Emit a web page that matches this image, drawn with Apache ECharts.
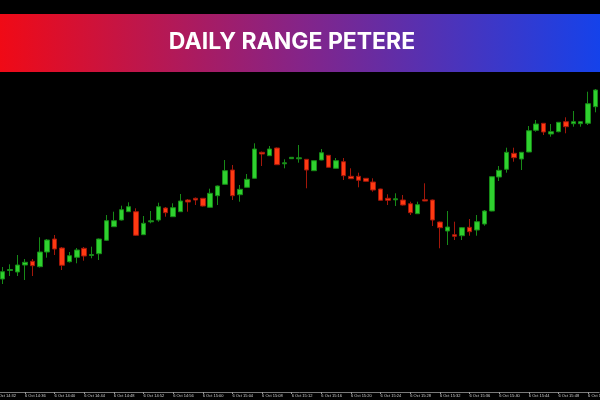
<!DOCTYPE html>
<html>
<head>
<meta charset="utf-8">
<script src="https://cdn.jsdelivr.net/npm/echarts@6/dist/echarts.min.js"></script>
<style>
html,body{margin:0;padding:0;background:#000;}
#chart{width:600px;height:400px;}
</style>
</head>
<body>
<div id="chart"></div>
<script>
// Title
var titleText = 'DAILY RANGE PETERE';
var datePrefix = '6 Oct';
// Minute categories (first one has no candle, only its axis label)
var times = ['14:32','14:33','14:34','14:35','14:36','14:37','14:38','14:39','14:40','14:41','14:42','14:43','14:44','14:45','14:46','14:47','14:48','14:49','14:50','14:51','14:52','14:53','14:54','14:55','14:56','14:57','14:58','14:59','15:00','15:01','15:02','15:03','15:04','15:05','15:06','15:07','15:08','15:09','15:10','15:11','15:12','15:13','15:14','15:15','15:16','15:17','15:18','15:19','15:20','15:21','15:22','15:23','15:24','15:25','15:26','15:27','15:28','15:29','15:30','15:31','15:32','15:33','15:34','15:35','15:36','15:37','15:38','15:39','15:40','15:41','15:42','15:43','15:44','15:45','15:46','15:47','15:48','15:49','15:50','15:51','15:52','15:53'];
// OHLC values for candles 14:33 .. 15:53
var opens  = [113,121.5,120,127,130.7,125.3,140,153,144,130.3,134.7,143.7,136.5,138.3,151.7,165.3,172,180.3,180.3,157.3,170.2,172,184,175.3,180.3,192,193.7,193.7,184.7,196.3,207.7,222,197.3,204.7,213.7,239.7,236.3,244,228.2,233.3,233.2,232.7,221.3,232,236.7,223.7,230.3,215.7,215.7,213.7,210,203,193.7,192.2,192,188.3,178.3,192.3,192,170,161,157.3,156.3,164.7,162,168,181,215,222.7,238.7,233,240,261.7,268.7,258,260.3,270.3,268.3,268.3,268.7,285.3];
var closes = [120.3,122.5,127,129.7,126.3,140,152,143,126.7,136.3,142,136,137.5,153,171.3,171.3,182.3,185.3,156.7,168.7,171.2,185.3,179.3,184.3,191,190,192,186,198.7,206,221.3,196.3,202.7,212.7,243,238,243,227.3,229.2,234.7,234.2,222,231.3,239.3,224.7,231.3,216.3,213.3,211.7,210.7,202,191.7,191.7,193.2,187,179.3,187.3,191,172,164.3,165,155.7,164.3,160.3,170.3,181,215.3,221.7,239.7,234.3,239.7,261.3,268,260,260.3,269.7,265.3,270.3,270.3,288.3,302];
var lows   = [108,116,116,112,116,124.5,134.3,137,122,129.5,128.7,131.3,133.7,132,151,165,171.5,180,156,157,168.7,170.3,175.3,175,180,180.3,187,185.5,184.3,187,207.5,192,190.3,204.5,213.5,226,236,227,223.7,233,229.3,203.7,221,231.7,224.5,223.5,212,213,204.7,210.5,200.3,191.5,187,186,186.5,177,178,190.8,166,143.7,147,152,152,156.3,156.3,166.3,180.7,211,219.3,230.3,222,239.7,260.3,257,255.3,259.7,258.7,265.3,265.3,267,279.7];
var highs  = [125,127.7,137,133,133,154.7,153,157,145,140,144,145,145.3,153.5,177,180.3,186.3,189.7,183.7,176,181,189.3,185,188.7,198,193,194.5,194,203.3,206.5,232,227,207,218,248.7,240.5,246,244.5,232.7,235,247,233,231.5,243,237,234,234,223.7,219.3,214,213.7,203.3,197.7,198.7,197,190.3,190.3,208.7,192.5,170.5,181,170.3,165,173,177,182,215.7,226,244.3,244.3,240,266,272,269,268,270,274.7,281,270.5,300.3,303];

var upBody = '#2fd12f', upEdge = '#178a17';
var downBody = '#ff3a12', downEdge = '#a3170a';

var candleData = ['-'].concat(opens.map(function (o, i) {
  return [o, closes[i], lows[i], highs[i]];
}));
var categories = times.map(function (t) { return datePrefix + ' ' + t; });

var chart = echarts.init(document.getElementById('chart'), null, {renderer: 'canvas'});
chart.setOption({
  backgroundColor: '#000000',
  animation: false,
  grid: {left: -8.4, right: 0.8, top: 0, bottom: 8, containLabel: false, outerBoundsMode: 'none'},
  xAxis: {
    type: 'category',
    data: categories,
    boundaryGap: true,
    axisLine: {show: true, lineStyle: {color: '#7a7a7a', width: 1}},
    axisTick: {show: true, alignWithLabel: true, length: 2, interval: function (i) { return i % 4 === 0; }, lineStyle: {color: '#9a9a9a'}},
    axisLabel: {
      show: true,
      interval: function (i) { return i % 4 === 0; },
      align: 'left',
      color: '#d0d0d0',
      fontSize: 4,
      fontFamily: 'Liberation Sans',
      margin: 2,
      hideOverlap: false
    },
    splitLine: {show: false}
  },
  yAxis: {type: 'value', min: 0, max: 392, show: false, splitLine: {show: false}},
  series: [{
    type: 'candlestick',
    data: candleData,
    barWidth: 5,
    itemStyle: {
      color: upBody, color0: downBody,
      borderColor: upEdge, borderColor0: downEdge,
      borderWidth: 1
    }
  }],
  graphic: [
    {
      type: 'rect', left: 0, top: 14, z: 100,
      shape: {width: 600, height: 58},
      style: {
        fill: new echarts.graphic.LinearGradient(0, 0, 1, 0, [
          {offset: 0, color: '#f00a16'},
          {offset: 0.5, color: '#852488'},
          {offset: 1, color: '#1542ea'}
        ])
      }
    },
    {
      type: 'text', z: 101,
      x: 292, y: 42,
      style: {
        text: titleText,
        fill: '#ffffff',
        font: '700 23px Inter',
        textAlign: 'center',
        textVerticalAlign: 'middle'
      }
    }
  ]
});
</script>
</body>
</html>
